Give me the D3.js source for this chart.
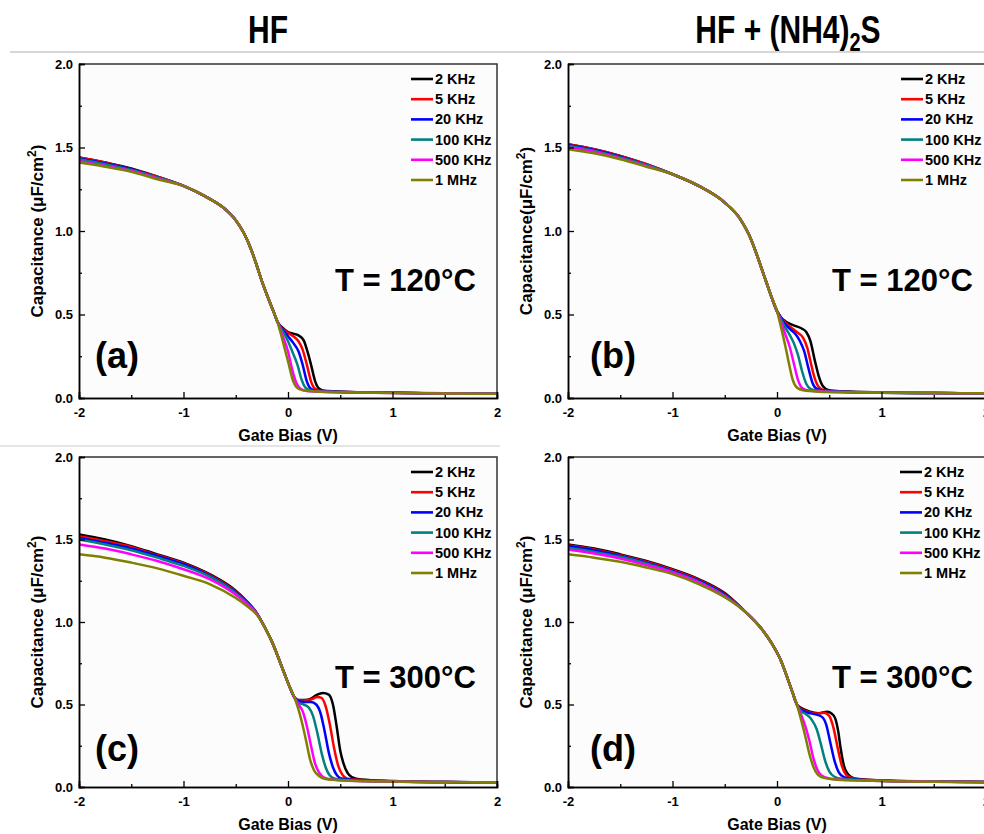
<!DOCTYPE html>
<html><head><meta charset="utf-8">
<script src="https://cdn.jsdelivr.net/npm/d3@7"></script>
<style>
body{margin:0;background:#fff}
svg{display:block}
text{font-family:"Liberation Sans",Arial,Helvetica,sans-serif;font-weight:bold;fill:#000}
</style>
</head><body>
<svg id="chart" width="984" height="834"></svg>
<script>
// ---------- labels ----------
const frequencies = ["2 KHz","5 KHz","20 KHz","100 KHz","500 KHz","1 MHz"];
const seriesColors = ["#000000","#ff0000","#0000ff","#008080","#ff00ff","#808000"];
const xMajorTicks = [-2,-1,0,1,2];
const xMinorTicks = [-1.5,-0.5,0.5,1.5];
const yMajorTicks = [0,0.5,1,1.5,2];
const yMinorTicks = [0.25,0.75,1.25,1.75];
const panelLabels = ["(a)","(b)","(c)","(d)"];
const temperatureLabels = ["T = 120\u00B0C","T = 120\u00B0C","T = 300\u00B0C","T = 300\u00B0C"];
const yTitles = ["Capacitance (\u03BCF/cm","Capacitance(\u03BCF/cm","Capacitance (\u03BCF/cm","Capacitance (\u03BCF/cm"];
const xTitle = "Gate Bias (V)";

// ---------- panel (a): HF, 120 C ----------
const aStartV = [-2,-1.75,-1.5,-1.25];
const aStart = [
  [1.44,1.41,1.375,1.325],
  [1.44,1.41,1.37,1.325],
  [1.435,1.405,1.37,1.32],
  [1.43,1.40,1.365,1.32],
  [1.42,1.39,1.36,1.315],
  [1.41,1.385,1.355,1.31]
];
const aHead = [[-1,1.27],[-0.8,1.21],[-0.6,1.13],[-0.5,1.065],[-0.42,0.985],[-0.35,0.885],[-0.3,0.795],[-0.25,0.7],[-0.2,0.615],[-0.14,0.52],[-0.1,0.455]];
const aTails = [
  [[-0.05,0.42],[0.0,0.395],[0.05,0.385],[0.1,0.375],[0.15,0.345],[0.19,0.27],[0.22,0.2],[0.26,0.1],[0.3,0.055],[0.35,0.043],[0.5,0.038],[1,0.031],[1.5,0.028],[2,0.025]],
  [[-0.05,0.415],[0.0,0.39],[0.05,0.37],[0.1,0.34],[0.14,0.29],[0.18,0.2],[0.22,0.1],[0.26,0.055],[0.31,0.043],[0.5,0.037],[1,0.031],[1.5,0.028],[2,0.025]],
  [[-0.05,0.41],[0.0,0.37],[0.05,0.33],[0.1,0.28],[0.14,0.2],[0.18,0.1],[0.22,0.055],[0.27,0.043],[0.45,0.037],[1,0.031],[1.5,0.028],[2,0.025]],
  [[-0.05,0.40],[0.0,0.34],[0.04,0.28],[0.09,0.2],[0.13,0.11],[0.17,0.06],[0.22,0.045],[0.4,0.037],[1,0.031],[1.5,0.028],[2,0.025]],
  [[-0.05,0.37],[0.0,0.28],[0.04,0.17],[0.08,0.09],[0.12,0.055],[0.18,0.042],[0.4,0.036],[1,0.03],[1.5,0.027],[2,0.025]],
  [[-0.05,0.34],[0.0,0.22],[0.05,0.1],[0.1,0.055],[0.15,0.045],[0.3,0.038],[0.6,0.033],[1,0.03],[1.5,0.027],[2,0.025]]
];

// ---------- panel (b): HF + (NH4)2S, 120 C ----------
const bStartV = [-2,-1.75,-1.5,-1.25];
const bStart = [
  [1.52,1.49,1.45,1.40],
  [1.52,1.49,1.45,1.40],
  [1.515,1.485,1.445,1.395],
  [1.51,1.48,1.44,1.395],
  [1.50,1.475,1.435,1.39],
  [1.49,1.465,1.43,1.385]
];
const bHead = [[-1,1.34],[-0.75,1.27],[-0.5,1.17],[-0.35,1.07],[-0.27,0.98],[-0.2,0.87],[-0.15,0.78],[-0.1,0.69],[-0.05,0.6],[0,0.52]];
const bTails = [
  [[0.04,0.48],[0.08,0.46],[0.12,0.445],[0.18,0.43],[0.24,0.415],[0.28,0.395],[0.32,0.34],[0.36,0.23],[0.4,0.13],[0.44,0.07],[0.49,0.048],[0.6,0.04],[1,0.033],[1.5,0.03],[2,0.028]],
  [[0.04,0.48],[0.08,0.45],[0.14,0.42],[0.2,0.39],[0.25,0.36],[0.29,0.3],[0.32,0.22],[0.36,0.12],[0.4,0.065],[0.45,0.047],[0.6,0.039],[1,0.032],[1.5,0.03],[2,0.028]],
  [[0.04,0.48],[0.08,0.44],[0.13,0.41],[0.18,0.38],[0.22,0.34],[0.26,0.28],[0.3,0.18],[0.34,0.09],[0.38,0.055],[0.44,0.045],[0.6,0.038],[1,0.032],[1.5,0.03],[2,0.028]],
  [[0.04,0.47],[0.08,0.42],[0.12,0.38],[0.16,0.33],[0.2,0.26],[0.24,0.16],[0.28,0.085],[0.32,0.055],[0.38,0.045],[0.6,0.037],[1,0.032],[1.5,0.03],[2,0.028]],
  [[0.04,0.45],[0.08,0.38],[0.12,0.31],[0.16,0.21],[0.2,0.11],[0.24,0.06],[0.3,0.045],[0.5,0.037],[1,0.032],[1.5,0.03],[2,0.028]],
  [[0.04,0.42],[0.08,0.31],[0.12,0.19],[0.15,0.11],[0.19,0.063],[0.25,0.046],[0.4,0.038],[0.7,0.034],[1,0.032],[1.5,0.03],[2,0.028]]
];

// ---------- panel (c): HF, 300 C ----------
const cStartV = [-2,-1.75,-1.5,-1.25,-1,-0.75,-0.5,-0.4,-0.3];
const cStart = [
  [1.53,1.50,1.46,1.41,1.36,1.29,1.19,1.13,1.055],
  [1.52,1.49,1.455,1.405,1.355,1.285,1.185,1.127,1.054],
  [1.51,1.48,1.445,1.40,1.35,1.28,1.18,1.124,1.053],
  [1.50,1.47,1.435,1.39,1.34,1.275,1.175,1.12,1.052],
  [1.47,1.445,1.41,1.37,1.32,1.26,1.165,1.113,1.05],
  [1.41,1.39,1.36,1.325,1.28,1.23,1.145,1.1,1.045]
];
const cHead = [[-0.22,0.965],[-0.15,0.875],[-0.09,0.78],[-0.03,0.68],[0.02,0.6],[0.06,0.545]];
const cTails = [
  [[0.1,0.527],[0.16,0.527],[0.22,0.535],[0.28,0.56],[0.335,0.57],[0.39,0.56],[0.43,0.5],[0.465,0.37],[0.5,0.22],[0.53,0.145],[0.57,0.085],[0.61,0.06],[0.7,0.045],[1,0.036],[1.5,0.03],[2,0.027]],
  [[0.1,0.525],[0.16,0.525],[0.22,0.53],[0.28,0.545],[0.32,0.54],[0.36,0.49],[0.4,0.38],[0.44,0.24],[0.48,0.13],[0.52,0.075],[0.57,0.05],[0.7,0.042],[1,0.035],[1.5,0.03],[2,0.027]],
  [[0.1,0.52],[0.16,0.515],[0.22,0.515],[0.27,0.5],[0.31,0.45],[0.35,0.34],[0.39,0.21],[0.43,0.12],[0.47,0.07],[0.52,0.05],[0.7,0.04],[1,0.034],[1.5,0.03],[2,0.027]],
  [[0.1,0.51],[0.15,0.5],[0.2,0.48],[0.24,0.43],[0.28,0.33],[0.32,0.21],[0.36,0.12],[0.4,0.07],[0.45,0.05],[0.6,0.04],[1,0.033],[1.5,0.03],[2,0.027]],
  [[0.1,0.5],[0.14,0.46],[0.18,0.37],[0.22,0.25],[0.26,0.14],[0.3,0.085],[0.35,0.055],[0.42,0.045],[0.6,0.038],[1,0.033],[1.5,0.03],[2,0.027]],
  [[0.1,0.47],[0.13,0.4],[0.17,0.29],[0.21,0.17],[0.25,0.1],[0.3,0.065],[0.36,0.048],[0.5,0.04],[1,0.033],[1.5,0.03],[2,0.027]]
];

// ---------- panel (d): HF + (NH4)2S, 300 C ----------
const dStartV = [-2,-1.75,-1.5,-1.25,-1,-0.75,-0.5];
const dStart = [
  [1.47,1.445,1.41,1.37,1.32,1.26,1.175],
  [1.465,1.44,1.405,1.365,1.315,1.255,1.17],
  [1.46,1.435,1.40,1.36,1.31,1.25,1.165],
  [1.45,1.425,1.395,1.355,1.305,1.245,1.16],
  [1.44,1.415,1.385,1.345,1.30,1.24,1.155],
  [1.41,1.39,1.365,1.33,1.29,1.23,1.15]
];
const dHead = [[-0.3,1.06],[-0.15,0.96],[-0.05,0.87],[0.035,0.77],[0.1,0.66],[0.15,0.57],[0.19,0.5]];
const dTails = [
  [[0.23,0.48],[0.3,0.46],[0.4,0.447],[0.48,0.456],[0.54,0.435],[0.56,0.41],[0.585,0.34],[0.61,0.23],[0.64,0.13],[0.67,0.085],[0.71,0.06],[0.78,0.048],[1,0.04],[1.5,0.034],[2,0.03]],
  [[0.23,0.475],[0.3,0.455],[0.38,0.445],[0.45,0.45],[0.5,0.43],[0.54,0.36],[0.58,0.24],[0.62,0.13],[0.66,0.075],[0.71,0.055],[0.8,0.045],[1,0.04],[1.5,0.034],[2,0.03]],
  [[0.23,0.47],[0.3,0.45],[0.37,0.44],[0.43,0.425],[0.47,0.38],[0.51,0.27],[0.55,0.16],[0.59,0.09],[0.64,0.06],[0.72,0.048],[1,0.038],[1.5,0.033],[2,0.03]],
  [[0.23,0.46],[0.28,0.44],[0.33,0.41],[0.38,0.35],[0.42,0.26],[0.46,0.16],[0.5,0.095],[0.55,0.062],[0.62,0.05],[1,0.038],[1.5,0.033],[2,0.03]],
  [[0.23,0.44],[0.27,0.37],[0.31,0.28],[0.35,0.17],[0.39,0.1],[0.43,0.068],[0.5,0.052],[0.6,0.045],[1,0.036],[1.5,0.032],[2,0.03]],
  [[0.23,0.41],[0.27,0.31],[0.31,0.2],[0.35,0.12],[0.39,0.075],[0.45,0.055],[0.55,0.045],[1,0.036],[1.5,0.032],[2,0.03]]
];

function buildSeries(startV, starts, head, tails){
  return starts.map((s,i)=> s.map((c,k)=>[startV[k],c]).concat(head, tails[i]));
}
const panelData = [
  buildSeries(aStartV,aStart,aHead,aTails),
  buildSeries(bStartV,bStart,bHead,bTails),
  buildSeries(cStartV,cStart,cHead,cTails),
  buildSeries(dStartV,dStart,dHead,dTails)
];

// ---------- layout ----------
const layout = [
  {left:79, right:497, top:64, bottom:398, legX:411, legY:79, tX:335, tY:280, pX:95, pY:355, ytX:38},
  {left:568, right:986, top:64, bottom:398, legX:901, legY:79, tX:832, tY:280, pX:590, pY:355, ytX:527},
  {left:79, right:497, top:457, bottom:787, legX:411, legY:472, tX:335, tY:677, pX:95, pY:748, ytX:38},
  {left:568, right:986, top:457, bottom:787, legX:900, legY:472, tX:832, tY:677, pX:590, pY:748, ytX:527}
];

const svg = d3.select("#chart");
svg.append("rect").attr("width",984).attr("height",834).attr("fill","#ffffff");

// separators
svg.append("line").attr("x1",10).attr("x2",984).attr("y1",52).attr("y2",52).attr("stroke","#c8c8c8").attr("stroke-width",1.5);
svg.append("line").attr("x1",0).attr("x2",500).attr("y1",446).attr("y2",446).attr("stroke","#dcdcdc").attr("stroke-width",1.5);

// column titles
svg.append("text").attr("x",268).attr("y",43).attr("text-anchor","middle").style("font-size","30px")
  .attr("transform","translate(268,43) scale(1,1.3) translate(-268,-43)").text("HF");
const t2 = svg.append("text").attr("x",788).attr("y",43).attr("text-anchor","middle").style("font-size","30px")
  .attr("transform","translate(788,43) scale(1,1.3) translate(-788,-43)");
t2.append("tspan").text("HF + (NH4)");
t2.append("tspan").attr("dy",6).style("font-size","20px").text("2");
t2.append("tspan").attr("dy",-6).text("S");

const defs = svg.append("defs");
const fmtX = d => String(d);

layout.forEach((L,pi)=>{
  const g = svg.append("g");
  const x = d3.scaleLinear().domain([-2,2]).range([L.left,L.right]);
  const y = d3.scaleLinear().domain([0,2]).range([L.bottom,L.top]);

  defs.append("clipPath").attr("id","clip"+pi).append("rect")
    .attr("x",L.left).attr("y",L.top).attr("width",L.right-L.left).attr("height",L.bottom-L.top);

  g.append("rect").attr("x",L.left).attr("y",L.top).attr("width",L.right-L.left).attr("height",L.bottom-L.top)
    .attr("fill","#fcfcfc");

  // curves
  const line = d3.line().x(d=>x(d[0])).y(d=>y(d[1])).curve(d3.curveMonotoneX);
  g.append("g").attr("clip-path","url(#clip"+pi+")").selectAll("path").data(panelData[pi]).join("path")
    .attr("d",line).attr("fill","none").attr("stroke",(d,i)=>seriesColors[i]).attr("stroke-width",2.5)
    .attr("stroke-linejoin","round");

  // frame top/right
  g.append("path").attr("d",`M${L.left},${L.top}H${L.right}V${L.bottom}`).attr("fill","none")
    .attr("stroke","#333").attr("stroke-width",1.5);

  // axes
  g.append("g").attr("transform",`translate(0,${L.bottom})`)
    .call(d3.axisBottom(x).tickValues(xMajorTicks).tickSize(-6).tickPadding(10).tickFormat(fmtX));
  g.append("g").attr("transform",`translate(0,${L.bottom})`)
    .call(d3.axisBottom(x).tickValues(xMinorTicks).tickSize(-3).tickFormat(""));
  g.append("g").attr("transform",`translate(${L.left},0)`)
    .call(d3.axisLeft(y).tickValues(yMajorTicks).tickSize(-6).tickPadding(6).tickFormat(d3.format(".1f")));
  g.append("g").attr("transform",`translate(${L.left},0)`)
    .call(d3.axisLeft(y).tickValues(yMinorTicks).tickSize(-3).tickFormat(""));
  g.selectAll(".domain").attr("stroke","#000").attr("stroke-width",1.5);
  g.selectAll(".tick line").attr("stroke","#000").attr("stroke-width",1.3);
  g.selectAll(".tick text").style("font-size","13px").style("font-family",'"Liberation Sans",Arial,sans-serif').style("font-weight","bold");

  // axis titles
  const xc = x(0);
  g.append("text").attr("x",xc).attr("y",L.bottom+43).attr("text-anchor","middle").style("font-size","16px").text(xTitle);
  const ycen = (L.top+L.bottom)/2;
  const yt = g.append("text").attr("transform",`translate(${L.ytX+5},${ycen}) rotate(-90)`).attr("text-anchor","middle").style("font-size","17px");
  yt.append("tspan").text(yTitles[pi]);
  yt.append("tspan").attr("dy",-7).style("font-size","12px").text("2");
  yt.append("tspan").attr("dy",7).text(")");

  // legend
  frequencies.forEach((f,i)=>{
    const ly = L.legY + i*20.2;
    g.append("line").attr("x1",L.legX).attr("x2",L.legX+22).attr("y1",ly).attr("y2",ly)
      .attr("stroke",seriesColors[i]).attr("stroke-width",2.6);
    g.append("text").attr("x",L.legX+24).attr("y",ly+5).style("font-size","14.5px").text(f);
  });

  // temperature & panel label
  g.append("text").attr("x",L.tX).attr("y",L.tY+11).style("font-size","31px").text(temperatureLabels[pi]);
  g.append("text").attr("x",L.pX).attr("y",L.pY+13).style("font-size","36px").text(panelLabels[pi]);
});
</script>
</body></html>
